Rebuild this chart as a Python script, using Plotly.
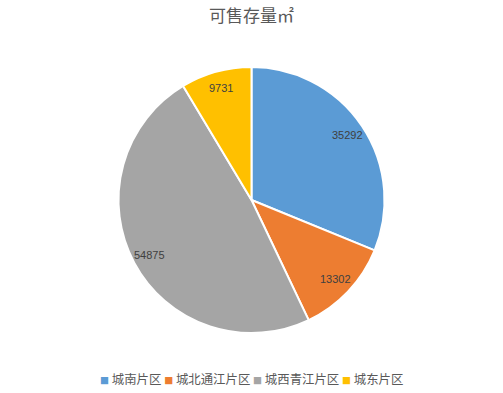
import math
import plotly.graph_objects as go

categories = ["城南片区", "城北通江片区", "城西青江片区", "城东片区"]
values = [35292, 13302, 54875, 9731]
colors = ["#5B9BD5", "#ED7D31", "#A5A5A5", "#FFC000"]
title = "可售存量㎡"

W, H = 503, 393
T, B = 67, 60
plot_h = H - T - B
R = plot_h / 2
label_r = 0.87 * R

fig = go.Figure(go.Pie(
    labels=categories,
    values=values,
    sort=False,
    direction="clockwise",
    rotation=0,
    marker=dict(colors=colors, line=dict(color="white", width=2)),
    textinfo="none",
    hoverinfo="label+value+percent",
    showlegend=False,
))

# data labels placed along slice bisectors
total = sum(values)
cum = 0
for v in values:
    mid = (cum + v / 2) / total * 2 * math.pi
    cum += v
    px = W / 2 + label_r * math.sin(mid)
    py = label_r * math.cos(mid)
    fig.add_annotation(
        x=px / W, y=0.5 + py / plot_h, xref="paper", yref="paper",
        text=str(v), showarrow=False, xanchor="center", yanchor="middle",
        font=dict(size=11, color="#404040", family="Liberation Sans, Arial"),
    )

# bottom legend
parts = []
for c, col in zip(categories, colors):
    parts.append(f'<span style="color:{col};font-size:9px">■</span> {c}')
legend_text = " ".join(parts)
fig.add_annotation(
    x=0.5, y=-(379 - (H - B)) / plot_h, xref="paper", yref="paper",
    text=legend_text, showarrow=False, xanchor="center", yanchor="middle",
    font=dict(size=12.4, color="#595959", family="Noto Sans CJK SC"),
)

fig.update_layout(
    width=W, height=H,
    margin=dict(l=0, r=0, t=T, b=B),
    paper_bgcolor="white",
    plot_bgcolor="white",
    title=dict(text=title, x=0.5, xanchor="center", y=1 - 16 / H, yanchor="middle",
               font=dict(size=17, color="#595959", family="Noto Sans CJK SC")),
    font=dict(family="Noto Sans CJK SC"),
)

fig.write_html("out.html")
